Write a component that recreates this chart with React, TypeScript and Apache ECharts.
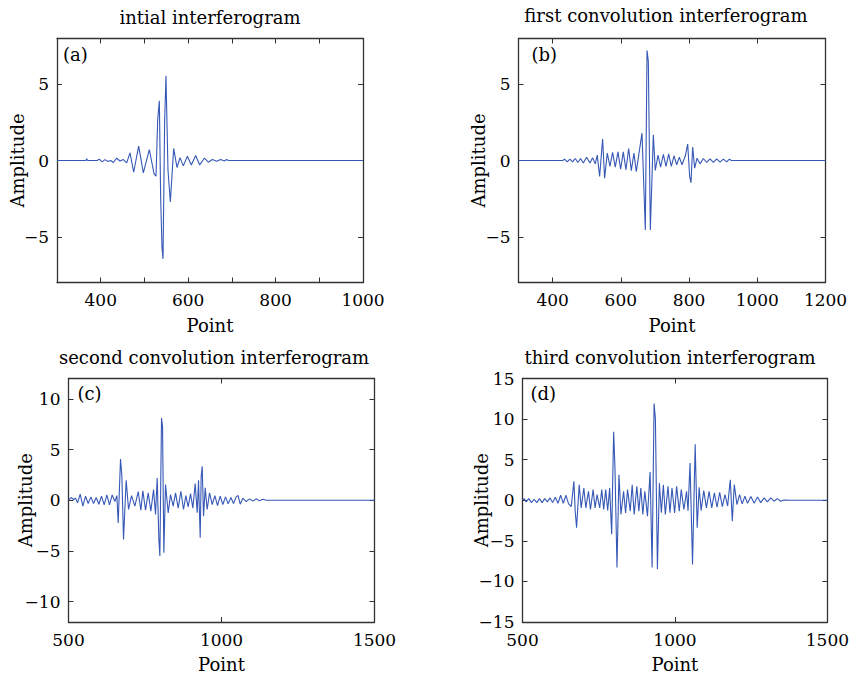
import React, { useEffect, useRef } from 'react';
import * as echarts from 'echarts';

// ---------- data ----------
// (a) initial interferogram
const aPoint = [300, 366, 368, 370, 392, 396.8, 402.9, 409.8, 416.7, 422.8, 428.9, 436.5, 444.1, 451.7, 459.4, 467, 475.4, 486.8, 497.5, 511.2, 521.9, 526.5, 530.3, 534.1, 537.1, 540.2, 542.5, 546.3, 549.3, 553.9, 559.3, 566.9, 574.5, 581.4, 589, 598.2, 607.3, 617.2, 626.4, 637.1, 646.2, 655.4, 665.3, 674.4, 682.8, 688.1, 692, 1000];
const aAmp = [0, 0, 0.12, 0, 0, 0.09, -0.09, 0.06, -0.07, 0, -0.13, 0.15, -0.03, 0.06, -0.16, 0.5, -0.77, 0.94, -0.81, 0.72, -0.86, -1.03, 2.65, 3.92, -2.39, -5.68, -6.45, 2.65, 5.55, -0.64, -2.72, 0.79, -0.46, 0.19, -0.35, 0.28, -0.29, 0.33, -0.29, 0.15, -0.11, 0.06, -0.05, 0.06, -0.03, 0.06, 0, 0];

// (b) first convolution interferogram
const bPoint = [300, 430, 435.1, 442.9, 450.7, 458.6, 466.4, 474.2, 482, 489.9, 499.6, 509.4, 517.2, 525.1, 530.9, 537.8, 546.6, 552.4, 560.3, 568.1, 575.9, 583.7, 591.6, 599.4, 607.2, 615, 622.9, 630.7, 638.5, 645.3, 662, 671.8, 676.8, 680.6, 686.5, 695.3, 701, 709, 716.7, 724.6, 732.4, 740.2, 748, 755.9, 763.7, 771.5, 779.3, 789.1, 796, 801.8, 805.7, 810.6, 816.5, 823.4, 832.2, 841.9, 851.7, 861.5, 871.3, 881, 890.8, 900.6, 910.4, 918.2, 924, 1200];
const bAmp = [0, 0, 0.09, -0.09, 0.09, -0.09, 0.13, -0.13, 0.13, -0.17, 0.22, -0.17, 0.18, -0.22, 0.35, -1.05, 1.41, -1.16, 0.48, -0.39, 0.53, -0.44, 0.57, -0.57, 0.57, -0.61, 0.79, -0.66, 0.48, -0.74, 1.8, -4.56, 7.22, 6.5, -4.56, 1.69, -0.65, 0.35, -0.44, 0.4, -0.39, 0.44, -0.39, 0.31, -0.28, 0.22, -0.28, 0.31, 1.08, -1.05, -1.45, 0.88, -0.5, 0.15, -0.22, 0.13, -0.13, 0.11, -0.13, 0.11, -0.11, 0.09, -0.09, 0.09, 0, 0];

// (c) second convolution interferogram
const cPoint = [500, 504.4, 509.9, 516.4, 523, 529.5, 538.2, 546.9, 555.6, 564.4, 573.1, 581.8, 590.5, 599.2, 607.9, 616.6, 625.4, 634.1, 642.8, 651.5, 658, 662.4, 670, 674.4, 679.8, 688.5, 696.2, 706, 716.9, 727.8, 736.5, 743, 751.7, 760.4, 769.1, 777.9, 784.4, 789.8, 795.3, 798.6, 804, 807.3, 811.6, 817.1, 825.8, 833.4, 842.1, 849.8, 858.5, 867.2, 875.9, 883.5, 891.1, 898.8, 906.4, 914, 920.6, 924.9, 930.4, 933.6, 936.9, 941.3, 946.7, 953.2, 960.9, 969.6, 978.3, 987, 995.7, 1004.4, 1013.2, 1021.9, 1030.6, 1039.3, 1048, 1054.5, 1061.1, 1069.8, 1080.7, 1091.6, 1102.5, 1113.4, 1124.3, 1135.2, 1146, 1500];
const cAmp = [0.05, 0.14, 0.27, 0.07, 0.2, -0.26, 0.6, -0.58, 0.4, -0.32, 0.33, -0.32, 0.27, -0.39, 0.4, -0.45, 0.53, -0.45, 0.53, -0.13, 0.46, -2.23, 4.07, 2.37, -3.87, 1.97, -0.91, 0.46, -0.58, 0.86, -0.98, 0.92, -0.98, 0.73, -1.08, 1.05, -1.41, 2.2, -3.87, -5.5, 8.11, 7.29, -5.18, 1.55, -1.24, 0.56, -0.58, 0.73, -0.78, 0.89, -0.91, 0.46, -0.65, 0.66, -0.78, 1.65, -1.24, 1.97, -3.7, 2.37, 3.35, -1.57, 1.22, -0.91, 0.73, -0.42, 0.46, -0.52, 0.4, -0.42, 0.33, -0.36, 0.27, -0.32, 0.33, 0.46, -0.39, 0.2, -0.13, 0.14, -0.09, 0.14, -0.06, 0.1, 0, 0];

// (d) third convolution interferogram
const dPoint = [500, 505.5, 512, 520.7, 529.4, 538.1, 546.8, 555.5, 564.2, 572.9, 581.6, 590.3, 599, 607.7, 616.4, 625.1, 633.8, 642.5, 651.2, 659.9, 668.6, 672.9, 677.3, 686, 692.5, 701.2, 707.7, 716.4, 722.9, 731.6, 738.1, 744.6, 753.3, 759.9, 766.4, 772.9, 779.4, 785.9, 792.5, 799, 803.3, 809.9, 816.4, 822.9, 831.6, 838.1, 844.6, 853.3, 859.8, 866.4, 875.1, 881.6, 888.1, 894.6, 901.2, 909.9, 918.5, 925.1, 931.6, 935.9, 942.5, 949, 955.5, 962, 968.5, 977.2, 983.8, 990.3, 999, 1005.5, 1014.2, 1020.7, 1029.4, 1038.1, 1043, 1049.5, 1057.7, 1066.4, 1073, 1079.4, 1085.9, 1094.6, 1103.3, 1112, 1120.7, 1129.4, 1138.1, 1146.8, 1155.5, 1164.2, 1172.9, 1181.6, 1188.1, 1194.6, 1203.3, 1212, 1220.7, 1229.4, 1238.1, 1249, 1259.8, 1270.7, 1281.6, 1292.4, 1303.3, 1314.2, 1325, 1335.9, 1346.8, 1357.7, 1380, 1500];
const dAmp = [0.04, 0.2, -0.2, 0.2, -0.29, 0.12, -0.29, 0.2, -0.29, 0.2, -0.2, 0.29, -0.29, 0.37, -0.37, 0.61, -0.37, 0.61, -0.45, -0.78, 2.33, -1.35, -3.39, 1.92, -0.94, 1.51, -0.94, 1.1, -1.14, 1.31, -0.94, 0.69, -0.94, 1.31, -1.14, 1.31, -1.27, 1.51, -4.2, 8.45, 3.96, -8.29, 3.14, -1.76, 1.1, -1.55, 1.31, -1.35, 1.92, -1.76, 1.71, -1.35, 1.51, -1.76, 1.1, -1.96, 3.47, -8.29, 11.92, 10.08, -8.49, 2.12, -1.55, 1.92, -1.76, 1.71, -1.55, 1.51, -1.55, 1.71, -1.35, 1.31, -1.14, 1.1, -1.3, 4.6, -7.9, 6.9, -3.4, 1.59, -1.27, 1.18, -0.94, 1.1, -0.94, 0.9, -0.86, 0.98, -0.78, 0.69, -0.69, 2.53, -2.57, 1.92, -0.53, 0.69, -0.45, 0.49, -0.37, 0.45, -0.37, 0.41, -0.29, 0.29, -0.2, 0.29, -0.12, 0.2, -0.12, 0.04, 0, 0];

// titles and tick values
const panelTitles = ['intial interferogram', 'first convolution interferogram', 'second convolution interferogram', 'third convolution interferogram'];
const panelTags = ['(a)', '(b)', '(c)', '(d)'];
const aXTicks = [400, 500, 600, 700, 800, 900];
const aXLabels = [400, 600, 800, 1000];
const bXTicks = [400, 600, 800, 1000];
const bXLabels = [400, 600, 800, 1000, 1200];
const cdXTicks = [1000];
const cdXLabels = [500, 1000, 1500];
const abYTicks = [-5, 0, 5];
const cYTicks = [-10, -5, 0, 5, 10];
const dYTicks = [-15, -10, -5, 0, 5, 10, 15];

// ---------- layout / style ----------
const FONT = 'DejaVu Serif';
const LINE = '#3658b6';
const AXIS = '#333333';

const panels = [
  { grid: { left: 57, top: 38.5, width: 306, height: 244 }, xr: [300, 1000], yr: [-8, 8], xt: aXTicks, xl: aXLabels, yt: abYTicks, xs: aPoint, ys: aAmp, yGap: 31, xGap: 34, titleX: 210, titleY: 17, tagDx: 6, tagDy: 16 },
  { grid: { left: 518.5, top: 38.5, width: 307, height: 244 }, xr: [300, 1200], yr: [-8, 8], xt: bXTicks, xl: bXLabels, yt: abYTicks, xs: bPoint, ys: bAmp, yGap: 31.5, xGap: 34, titleX: 666, titleY: 15, tagDx: 13, tagDy: 16 },
  { grid: { left: 68.5, top: 378.5, width: 306, height: 245 }, xr: [500, 1500], yr: [-12, 12], xt: cdXTicks, xl: cdXLabels, yt: cYTicks, xs: cPoint, ys: cAmp, yGap: 34.5, xGap: 33, titleX: 214, titleY: 357, tagDx: 9, tagDy: 15 },
  { grid: { left: 522.5, top: 378.5, width: 306.5, height: 245 }, xr: [500, 1500], yr: [-15, 15], xt: cdXTicks, xl: cdXLabels, yt: dYTicks, xs: dPoint, ys: dAmp, yGap: 32.5, xGap: 33, titleX: 670, titleY: 357, tagDx: 8, tagDy: 15 },
];

const fmt = (v: number) => (v < 0 ? '\u2212' + Math.abs(v) : String(v));

function buildOption() {
  const grid: any[] = [];
  const xAxis: any[] = [];
  const yAxis: any[] = [];
  const series: any[] = [];
  const graphic: any[] = [];
  panels.forEach((p, i) => {
    grid.push({ ...p.grid, containLabel: false });
    const tickCommon = { show: true, inside: true, length: 5, lineStyle: { color: AXIS, width: 1 } };
    const lineCommon = { show: true, onZero: false, lineStyle: { color: AXIS, width: 1.3 } };
    const labelCommon = { color: '#000', fontFamily: FONT, fontSize: 17, formatter: fmt };
    const nameStyle = { color: '#000', fontFamily: FONT, fontSize: 18 };
    xAxis.push({
      type: 'value', gridIndex: i, min: p.xr[0], max: p.xr[1], position: 'bottom',
      axisLine: lineCommon,
      axisTick: { ...tickCommon, customValues: p.xt },
      axisLabel: { ...labelCommon, margin: 9, customValues: p.xl, showMinLabel: true, showMaxLabel: true },
      splitLine: { show: false },
      name: 'Point', nameLocation: 'middle', nameGap: p.xGap, nameMoveOverlap: false,
      nameTextStyle: nameStyle,
    });
    xAxis.push({
      type: 'value', gridIndex: i, min: p.xr[0], max: p.xr[1], position: 'top',
      axisLine: lineCommon,
      axisTick: { ...tickCommon, customValues: p.xt },
      axisLabel: { show: false },
      splitLine: { show: false },
    });
    yAxis.push({
      type: 'value', gridIndex: i, min: p.yr[0], max: p.yr[1], position: 'left',
      axisLine: lineCommon,
      axisTick: { ...tickCommon, customValues: p.yt },
      axisLabel: { ...labelCommon, margin: 8, customValues: p.yt, showMinLabel: true, showMaxLabel: true },
      splitLine: { show: false },
      name: 'Amplitude', nameLocation: 'middle', nameGap: p.yGap, nameMoveOverlap: false,
      nameTextStyle: nameStyle,
    });
    yAxis.push({
      type: 'value', gridIndex: i, min: p.yr[0], max: p.yr[1], position: 'right',
      axisLine: lineCommon,
      axisTick: { ...tickCommon, customValues: p.yt },
      axisLabel: { show: false },
      splitLine: { show: false },
    });
    series.push({
      type: 'line', xAxisIndex: 2 * i, yAxisIndex: 2 * i,
      data: p.xs.map((x, k) => [x, p.ys[k]]),
      showSymbol: false, symbol: 'none', silent: true, clip: true,
      lineStyle: { color: LINE, width: 1.1 }, itemStyle: { color: LINE },
    });
    graphic.push({
      type: 'text', x: p.titleX, y: p.titleY,
      style: { text: panelTitles[i], font: `18px "${FONT}"`, fill: '#000', align: 'center', verticalAlign: 'middle' },
    });
    graphic.push({
      type: 'text', x: p.grid.left + p.tagDx, y: p.grid.top + p.tagDy,
      style: { text: panelTags[i], font: `18px "${FONT}"`, fill: '#000', align: 'left', verticalAlign: 'middle' },
    });
  });
  return { animation: false, backgroundColor: '#fff', grid, xAxis, yAxis, series, graphic };
}

export default function App() {
  const ref = useRef<HTMLDivElement>(null);
  useEffect(() => {
    if (!ref.current) return;
    const chart = echarts.init(ref.current, undefined, { renderer: 'svg' });
    chart.setOption(buildOption() as any);
    return () => chart.dispose();
  }, []);
  return <div ref={ref} style={{ position: 'absolute', left: 0, top: 0, width: 852, height: 674 }} />;
}
